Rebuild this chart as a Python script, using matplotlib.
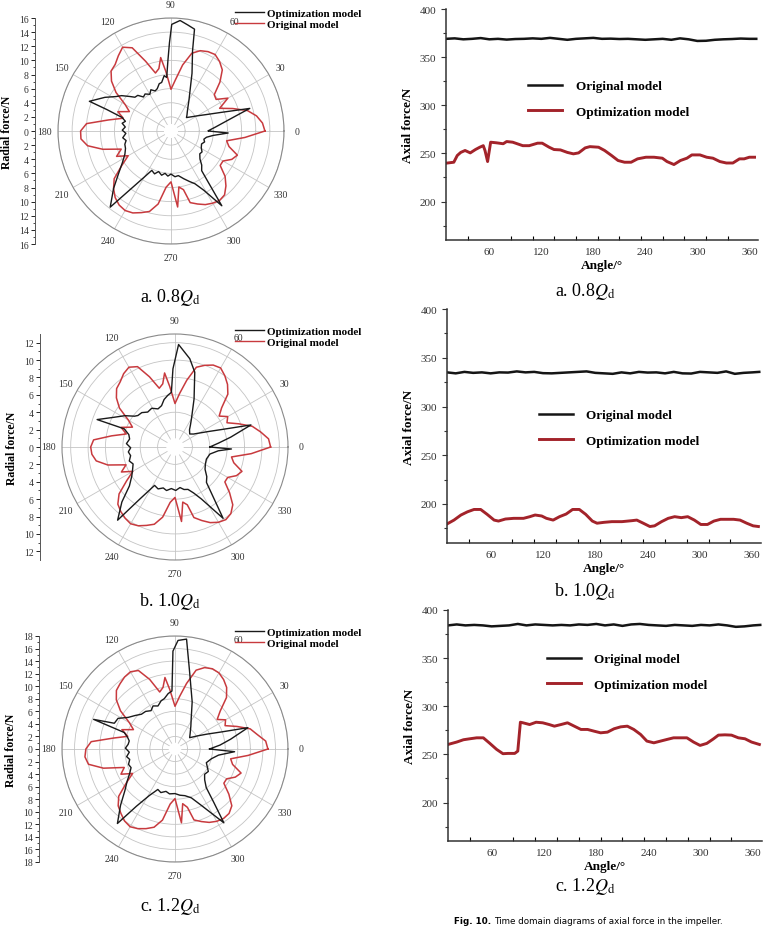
import numpy as np
import matplotlib
matplotlib.use("Agg")
import matplotlib.pyplot as plt
from matplotlib.lines import Line2D

plt.rcParams['font.family'] = ['Liberation Serif', 'DejaVu Serif']
plt.rcParams['mathtext.fontset'] = 'stix'

# ---------------- polar data (angle deg, radial force N) ----------------
red_ang = [0,5,10,15,20,25,30,35,40,45,50,55,60,65,70,75,80,85,90,95,98,101,105,110,115,120,125,130,135,140,
           145,150,155,160,165,170,175,180,185,190,195,200,205,210,215,220,225,230,235,240,245,250,255,260,265,
           270,275,278,282,285,290,295,300,305,310,315,320,325,330,335,340,345,350,355,360]
red_a = [13.3,13.0,12.3,11.2,9.3,7.6,9.3,7.8,8.0,9.8,11.3,12.0,12.5,12.4,12.1,11.4,9.5,7.3,5.9,8.5,10.5,9.0,8.5,10.5,13.0,
         13.7,13.0,12.3,12.0,11.0,9.5,7.5,6.5,8.0,7.0,9.0,12.0,12.8,12.8,12.0,10.0,7.5,8.5,7.0,8.5,10.5,11.5,12.3,12.8,13.0,
         12.8,12.3,11.8,10.5,8.0,7.2,10.8,8.0,8.5,10.5,11.0,11.5,11.8,12.0,11.8,11.0,10.0,8.5,8.5,9.5,10.0,8.5,8.0,10.5,13.3]
red_b = [11.0,10.8,10.0,9.2,7.8,6.6,7.0,6.2,7.0,8.6,9.4,10.0,10.5,10.4,10.0,9.5,7.8,6.2,5.0,7.0,8.6,7.4,7.0,8.6,10.2,
         10.6,10.3,9.8,9.5,8.8,7.8,6.2,5.4,6.6,5.8,7.4,9.4,9.7,9.6,9.2,8.0,6.0,6.8,5.6,6.8,8.4,9.3,9.7,10.0,10.2,
         10.0,9.6,9.2,8.2,6.4,5.8,8.6,6.4,6.8,8.4,9.0,9.6,10.0,10.2,10.0,9.4,8.2,7.0,7.0,7.8,8.2,7.0,6.6,8.8,11.0]
red_c = [14.8,14.5,13.3,12.4,10.5,8.8,9.3,8.2,9.4,11.6,12.8,13.5,14.0,14.1,13.8,13.0,10.6,8.4,6.8,9.5,11.5,10.0,9.4,11.8,13.8,
         14.2,14.0,13.6,13.2,12.2,10.6,8.4,7.3,9.0,7.8,10.0,13.4,14.2,14.4,14.0,11.8,8.6,9.5,7.8,9.5,11.7,12.8,13.4,14.0,14.3,
         14.0,13.5,12.9,11.5,8.8,7.9,11.8,8.8,9.5,11.7,12.3,12.9,13.3,13.5,13.4,12.8,11.2,9.5,9.5,10.6,11.2,9.5,9.0,11.7,14.8]

blk_a_ang = [0.5,5,10,14,16,20,25,30,35,41,45,50,55,60,65,70,75,77,81,85.3,89.6,91,92.5,94.6,97,100.9,104,108,111.6,116,
             120,125,129,133,136.9,140,144.4,148,153,160,161.5,164.5,168,171,175,179,183,188,192,196,201,206.6,213,219.2,225,
             231.4,236,240,244,249,253,258,262,266,270,275,279.3,285,290,294.4,299,304.2,306,307.7,312,316,321.6,326,331,337,
             342,346,350,354,358,360]
blk_a = [5.3,6.3,7.9,10.0,11.6,7.8,5.5,4.3,3.5,2.9,3.2,3.6,4.2,5.1,6.4,8.7,11.8,14.8,15.2,15.7,15.1,12.5,10.0,7.6,7.9,7.0,
         6.9,6.3,6.1,6.5,6.0,6.4,6.2,6.9,7.0,7.6,8.6,9.2,10.5,12.3,9.6,7.2,6.6,7.0,6.5,6.9,6.4,6.9,6.5,6.8,6.9,7.3,8.2,9.6,
         11.5,13.8,9.5,7.5,6.2,6.5,6.0,6.4,6.05,6.4,6.1,6.5,6.4,7.0,7.6,8.2,9.6,12.8,9.0,7.1,6.5,5.7,5.2,5.3,4.9,4.7,5.0,
         4.8,5.1,6.0,8.1,5.3]

blk_b_ang = [0,5,10,16.2,20,25,30,35,41.5,50,55,60,68.4,75.2,80.5,88,91.5,93.8,98,103,108,114,121,128,134,139.7,142.7,
             148,153.8,160.6,160.3,165,170,176,181,186,191,197,202,207.6,214,220.5,226,231.9,236,242,248,254,259,265,
             271,277,282,287,292,296.9,304,311.6,317,323.5,331,339,348.6,355,358,360]
blk_b = [4.0,5.0,6.5,9.1,6.0,4.2,3.2,2.6,2.26,2.6,3.1,3.8,5.96,8.9,10.3,11.8,9.0,6.3,6.0,5.6,5.0,4.8,5.2,5.1,5.5,5.6,
         5.85,6.8,7.76,9.5,6.2,5.5,5.3,5.6,5.1,5.4,5.2,5.5,5.2,5.5,6.0,6.9,8.8,10.7,7.2,5.0,5.2,4.9,5.1,4.8,5.0,4.7,5.0,
         5.1,5.7,6.7,9.9,5.45,5.0,4.3,4.0,3.87,4.1,5.0,6.5,4.0]

blk_c_ang = [0,5,10,16.3,20,25,30,37.7,45,55,62.5,70,79.4,84,88.4,91.2,93,97,102,106,111.6,117,122,128,134,140,146,151.7,
             157,160,162,166,170,174.3,179,184,189,193,198.3,203,209,214,219.8,226,232.3,236,241,247,252,258,263,270,276,
             282,288.5,295,303.5,306,309,314,319.5,326,336.4,345,352,357.4,360]
blk_c = [5.5,7.2,9.0,12.1,8.0,5.6,4.2,2.95,3.4,4.4,5.6,8.0,12.6,17.6,17.3,15.6,9.25,8.9,8.2,8.0,7.37,7.7,7.2,7.6,7.7,8.3,
         9.0,10.3,10.5,13.8,8.5,7.8,7.4,7.5,7.9,7.3,7.8,7.4,7.8,7.6,8.3,9.2,10.4,12.5,15.0,11.0,8.5,7.0,7.3,6.9,7.2,7.1,
         7.4,7.6,8.2,9.9,14.1,10.5,7.9,6.8,6.2,6.4,5.45,6.0,7.0,9.5,5.5]

# ---------------- axial force data (angle deg, force N) ----------------
ang_blk = [10,20,30,40,50,60,70,80,90,100,110,120,130,140,150,160,170,180,190,200,210,220,230,240,250,260,270,280,290,
           300,310,320,330,340,350,360,368]
orig_a = [369,369.5,368.5,369,369.8,368.5,369,368.2,368.8,369,369.5,369,370,369,368,369,369.5,370,369,369.2,368.8,369,
          368.5,368,368.5,369,368,369.5,368.5,366.8,367,368,368.5,368.8,369.3,369,369]
orig_b = [335,334,335.5,334.5,335,334,335,334.8,336,335,335.5,334.2,334,334.5,335,335.5,336,334.5,334,333.5,335,334,
          335.5,334.8,335,334,335.5,334,333.8,335.5,335,334.5,336,333.5,334.5,335,335.5]
orig_c = [384,385,384,384.5,384,383,383.5,384,385.5,384,385,384.5,384,384.5,384,385,384.5,385.5,384,385,383.5,385,
          385.5,384.5,384,383.5,384.5,384,383.5,384.5,384,385,384,382.5,383,384,384.5]

opt_a_ang = [10,19,23,27,32,38,44,49,53,55,58,60,61.5,68,76,80,87,98.6,106,115.7,121,129,134.6,142,150,157,163,170.6,176,
             186,193,201,208.5,216,223.6,231,240.7,250,259.6,265,273,280.5,288,293.7,303,310.8,318,326,333.5,341,348.6,354,
             360,366]
opt_a = [239.8,240.8,247.8,251,253,250.5,254,256.4,258,253,241.5,253,261.6,261,260,262.3,261.6,258,258,260.6,260.6,256.4,
         254,253.6,251,249.5,250.5,255.7,257,256.4,253,247.8,242.6,240.8,240.8,244.3,246,246,245,241.5,238.4,242.6,245,
         248.4,248.4,246,245,241.5,240,240,244.3,244.3,246,246]
opt_b_ang = [10,18,26,33.5,41,48.6,56,64,69,77,86.5,97.7,105,111,118.6,124,131.7,139,146.6,154,161.7,169,176.6,182,190,
             199,210.6,222,227.6,235,242.6,248,256,263.6,271,278.6,286,293.6,301,308.6,316,323.6,331,338.6,346,353.6,361,
             367]
opt_b = [179.5,183.5,188.7,192,194.4,194.4,189.4,183.5,182.5,184.6,185.3,185.3,187,188.7,187.7,185.3,183.5,187,189.7,
         194.4,194.4,189.4,182.5,180.3,181.2,181.9,181.9,182.9,183.5,180.3,176.9,177.6,181.9,185.3,187,186,187,183.5,
         179,179,182.5,184.3,184.3,184.3,183.5,180.3,177.6,176.9]
opt_c_ang = [10,20,27.7,35,42.9,50.5,58,65.7,73,78.8,86.5,90,93,96,103.6,111,118.6,126,132,139.5,147,154.8,162.4,170,
             177.5,185,192.8,200.4,208,215.6,223,230.8,238,246,253.7,261,268.6,276,283.9,291.5,299,306.7,314,320,327.5,
             335,342.9,350.5,358,367]
opt_c = [260.3,262.8,265.2,266.2,267.2,267.2,261.4,255.2,250.7,251,251,253.4,283.4,282.8,281,283.4,282.8,281,279.3,281,
         282.8,279.3,275.9,275.9,274.1,272.4,273.1,276.6,278.6,279.3,275.9,270.7,263.8,262,263.8,265.5,267.2,267.2,
         267.2,262.8,259.3,261.4,265.9,270,270.3,270,267.2,266.2,262.8,260.3]

theta_labels = [str(a) for a in range(0, 360, 30)]

W, H = 773, 928
fig = plt.figure(figsize=(W / 100, H / 100), dpi=100)
fig.patch.set_facecolor('white')

def fx(px):
    return px / W

def fy(py):
    return 1 - py / H

POLAR_RED = '#c83a3e'
LINE_RED = '#a3232a'

def polar_panel(cx, cy, R, rmax, tickmax, spine_x, ang_k, blk_k, ang_r, red_r, leg_y):
    ax = fig.add_axes([fx(cx - R), fy(cy + R), 2 * R / W, 2 * R / H], projection='polar')
    ax.plot(np.deg2rad(ang_r), red_r, color=POLAR_RED, lw=1.1, zorder=3)
    ax.plot(np.deg2rad(ang_k), blk_k, color='#1a1a1a', lw=1.0, zorder=4)
    ax.set_ylim(0, rmax)
    ax.set_yticks(np.arange(2, tickmax + 0.1, 2))
    ax.set_yticklabels([])
    ax.set_thetagrids(np.arange(0, 360, 30), theta_labels)
    ax.tick_params(axis='x', labelsize=7, pad=-1, colors='#333333')
    ax.grid(color='#c4c4c4', lw=0.6)
    ax.spines['polar'].set_color('#8a8a8a')
    ax.spines['polar'].set_linewidth(0.8)
    ax.bar(0, 1.0, width=2 * np.pi, bottom=0, color='white', zorder=2.5)
    # radial force axis
    rax = fig.add_axes([fx(spine_x), fy(cy + R), 0.0001, 2 * R / H])
    rax.set_ylim(-rmax, rmax)
    ticks = np.arange(-tickmax, tickmax + 0.1, 2)
    rax.set_yticks(ticks)
    rax.set_yticklabels([str(int(abs(t))) for t in ticks], fontsize=7, color='#333333')
    rax.set_yticks(np.arange(-tickmax + 1, tickmax, 2), minor=True)
    rax.tick_params(axis='y', which='major', length=3, width=0.6, pad=1.5)
    rax.tick_params(axis='y', which='minor', length=1.8, width=0.5)
    rax.set_xticks([])
    for s in ['top', 'right', 'bottom']:
        rax.spines[s].set_visible(False)
    rax.spines['left'].set_linewidth(0.7)
    rax.spines['left'].set_color('#555555')
    rax.patch.set_visible(False)
    rax.set_ylabel('Radial force/N', fontsize=8.5, fontweight='bold', labelpad=4)
    handles = [Line2D([], [], color='#1a1a1a', lw=1.0), Line2D([], [], color=POLAR_RED, lw=1.0)]
    fig.legend(handles, ['Optimization model', 'Original model'], loc='upper left',
               bbox_to_anchor=(fx(235), fy(leg_y)), frameon=False,
               prop={'weight': 'bold', 'size': 8}, handlelength=2.6, handletextpad=0.3,
               labelspacing=0.15, borderaxespad=0, borderpad=0)
    return ax

polar_panel(171, 132, 113, 16, 16, 35, blk_a_ang, blk_a, red_ang, red_a, 9)
polar_panel(175, 448, 113, 13, 12, 40, blk_b_ang, blk_b, red_ang, red_b, 327)
polar_panel(175, 750, 113, 18, 18, 39, blk_c_ang, blk_c, red_ang, red_c, 628)

def line_panel(left, right, top, bottom, orig, opt_ang, opt, leg_x, leg_y):
    ax = fig.add_axes([fx(left), fy(bottom), (right - left) / W, (bottom - top) / H])
    ax.plot(ang_blk, orig, color='#151515', lw=1.8, label='Original model')
    ax.plot(opt_ang, opt, color=LINE_RED, lw=2.1, label='Optimization model')
    ax.set_xlim(10, 370)
    ax.set_ylim(160, 400)
    ax.set_yticks([200, 250, 300, 350, 400])
    ax.set_yticks([175, 225, 275, 325, 375], minor=True)
    ax.set_xticks([60, 120, 180, 240, 300, 360])
    ax.set_xticks(list(range(35, 361, 25)), minor=True)
    ax.tick_params(axis='x', which='major', length=0, labelsize=8, pad=5, colors='#333333')
    ax.tick_params(axis='x', which='minor', length=3, width=0.8, direction='in')
    ax.tick_params(axis='y', which='both', direction='out', width=0.8, labelsize=8, colors='#333333')
    ax.tick_params(axis='y', which='major', length=3.5)
    ax.tick_params(axis='y', which='minor', length=2)
    for s in ['top', 'right']:
        ax.spines[s].set_visible(False)
    for s in ['left', 'bottom']:
        ax.spines[s].set_linewidth(1.1)
        ax.spines[s].set_color('#333333')
    ax.set_ylabel('Axial force/N', fontsize=9.5, fontweight='bold', labelpad=4)
    ax.set_xlabel('Angle/°', fontsize=9.5, fontweight='bold', labelpad=2)
    ax.legend(loc='upper left', bbox_to_anchor=(fx(leg_x), fy(leg_y)), bbox_transform=fig.transFigure,
              frameon=False, prop={'weight': 'bold', 'size': 9.5}, handlelength=2.6,
              handletextpad=1.0, labelspacing=1.0, borderaxespad=0, borderpad=0)
    return ax

line_panel(446, 758, 10, 241, orig_a, opt_a_ang, opt_a, 528, 81)
line_panel(447, 761, 310, 544, orig_b, opt_b_ang, opt_b, 539, 410)
line_panel(448, 762, 611, 842, orig_c, opt_c_ang, opt_c, 547, 654)

cap_kw = dict(ha='center', va='center', fontsize=13)
fig.text(fx(170), fy(298), r'a. 0.8$Q_{\mathrm{d}}$', **cap_kw)
fig.text(fx(170), fy(601), r'b. 1.0$Q_{\mathrm{d}}$', **cap_kw)
fig.text(fx(170), fy(907), r'c. 1.2$Q_{\mathrm{d}}$', **cap_kw)
fig.text(fx(585), fy(292), r'a. 0.8$Q_{\mathrm{d}}$', **cap_kw)
fig.text(fx(585), fy(591), r'b. 1.0$Q_{\mathrm{d}}$', **cap_kw)
fig.text(fx(585), fy(887), r'c. 1.2$Q_{\mathrm{d}}$', **cap_kw)

renderer = fig.canvas.get_renderer()
t1 = fig.text(fx(454), fy(922), 'Fig. 10.', ha='left', va='center', fontsize=6.3, fontweight='bold',
              family='DejaVu Sans')
bb = t1.get_window_extent(renderer)
fig.text(bb.x1 / W + 3 / W, fy(922), 'Time domain diagrams of axial force in the impeller.', ha='left',
         va='center', fontsize=6.3, family='DejaVu Sans')

fig.savefig('out.png', dpi=100)
